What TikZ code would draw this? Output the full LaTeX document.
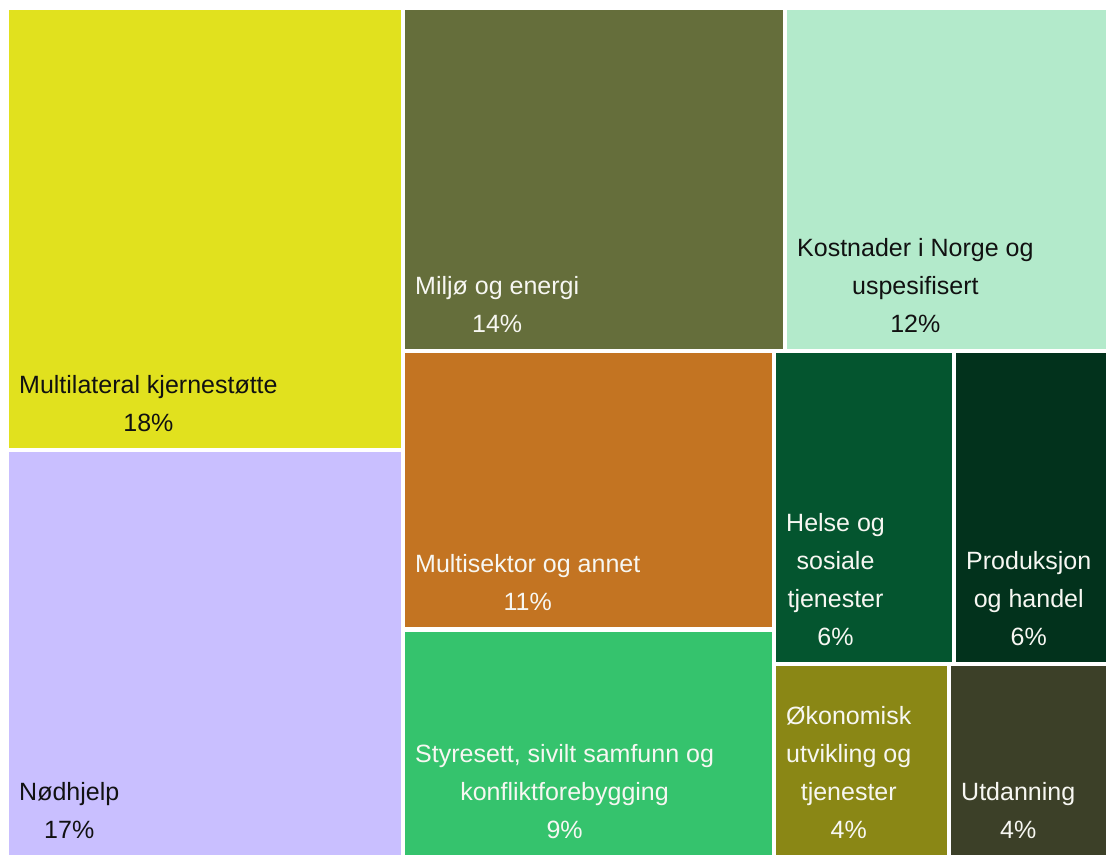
\documentclass[tikz,border=0pt]{standalone}
\usepackage{fontspec}
\setmainfont{Liberation Sans}

\definecolor{kjerne}{HTML}{E1E11E}
\definecolor{nodhjelp}{HTML}{C9BFFF}
\definecolor{miljo}{HTML}{656E3B}
\definecolor{kostnad}{HTML}{B3EACB}
\definecolor{multisek}{HTML}{C37422}
\definecolor{styresett}{HTML}{35C36D}
\definecolor{helse}{HTML}{04552F}
\definecolor{produksjon}{HTML}{02321C}
\definecolor{okonomi}{HTML}{8A8715}
\definecolor{utdanning}{HTML}{3C4028}
\definecolor{darktext}{HTML}{111111}
\definecolor{lighttext}{HTML}{F7F7F2}

\tikzset{
  tilelabel/.style={anchor=south west, inner sep=0pt, align=center,
    font=\fontsize{25}{38}\selectfont}
}

\begin{document}
\begin{tikzpicture}[x=1pt,y=-1pt]

% Page with white margins
\useasboundingbox[fill=white] (0,0) rectangle (1106,855);

% Tiles with dark text
\foreach \nm/\xa/\ya/\xb/\yb/\col/\txt in {
    kjerne/9/10/401/448/kjerne/{Multilateral kjernestøtte\\18\%},
    nodhjelp/9/452/401/855/nodhjelp/{Nødhjelp\\17\%},
    kostnad/787/10/1106/349/kostnad/{Kostnader i Norge og\\uspesifisert\\12\%}} {
    \fill[\col] (\xa,\ya) rectangle (\xb,\yb);
    \node[tilelabel, text=darktext] (\nm) at (\xa+10,\yb-16) {\txt};
}

% Tiles with light text
\foreach \nm/\xa/\ya/\xb/\yb/\col/\txt in {
    miljo/405/10/783/349/miljo/{Miljø og energi\\14\%},
    multisek/405/353/772/627/multisek/{Multisektor og annet\\11\%},
    styresett/405/632/772/855/styresett/{Styresett, sivilt samfunn og\\konfliktforebygging\\9\%},
    helse/776/353/952/662/helse/{Helse og\\sosiale\\tjenester\\6\%},
    produksjon/956/353/1106/662/produksjon/{Produksjon\\og handel\\6\%},
    okonomi/776/666/947/855/okonomi/{Økonomisk\\utvikling og\\tjenester\\4\%},
    utdanning/951/666/1106/855/utdanning/{Utdanning\\4\%}} {
    \fill[\col] (\xa,\ya) rectangle (\xb,\yb);
    \node[tilelabel, text=lighttext] (\nm) at (\xa+10,\yb-16) {\txt};
}

\end{tikzpicture}
\end{document}
